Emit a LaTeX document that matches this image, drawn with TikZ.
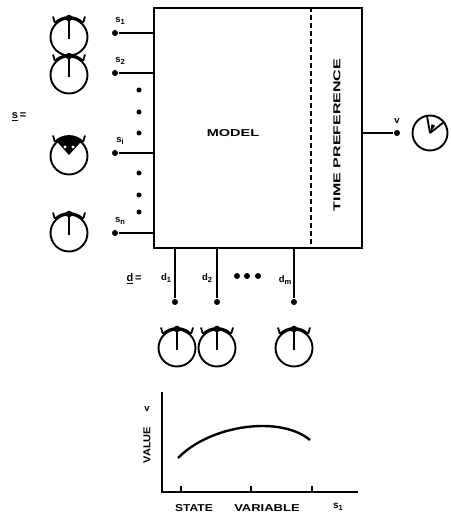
\documentclass[tikz,border=0pt]{standalone}
\usepackage{fontspec}
\setmainfont{Liberation Sans}
\usetikzlibrary{calc}
\newcommand\mysub[1]{\raisebox{-2.5pt}{\fontsize{7.5}{8}\selectfont #1}}
\begin{document}
\begin{tikzpicture}[x=1pt,y=-1pt,line width=1.8pt,
  dial/.style={circle,draw,line width=1.9pt,minimum size=37pt,inner sep=0pt},
  lbl/.style={font=\bfseries\fontsize{9.5}{10}\selectfont,inner sep=0pt},
  big/.style={font=\bfseries\fontsize{10}{11}\selectfont,inner sep=0pt},
  pin/.style={circle,fill,inner sep=0pt,minimum size=6pt},
  vdot/.style={circle,fill,inner sep=0pt,minimum size=5pt},
  crown/.pic={
    \draw[line width=1.8pt] (135:20pt) arc (135:45:20pt);
    \draw[line width=1.8pt] (135:20pt) -- (128:26pt);
    \draw[line width=1.8pt] (45:20pt) -- (52:26pt);
    \fill (90:19pt) circle (3.3pt);
    \draw[line width=1.9pt] (0,-2pt) -- (90:18pt);
  },
  crownfill/.pic={
    \draw[line width=1.8pt] (135:20pt) arc (135:45:20pt);
    \draw[line width=1.8pt] (135:20pt) -- (128:26pt);
    \draw[line width=1.8pt] (45:20pt) -- (52:26pt);
    \fill (130:18pt) arc (130:50:18pt) -- (0,1pt) -- cycle;
    \fill[white] (-4pt,9pt) circle (1.6pt) (4pt,9pt) circle (1.6pt);
  },
  outdial/.pic={
    \draw[line width=1.8pt] (0,0) -- (100:18pt);
    \draw[line width=1.8pt] (0,0) -- (38:18pt);
    \fill (0,0) -- (80:9pt) -- (55:9pt) -- cycle;
  }]
\useasboundingbox (0,0) rectangle (450,521);

% main box
\node[draw,line width=2pt,minimum width=208pt,minimum height=240pt,inner sep=0pt] (model) at (258,128) {};
\draw[line width=1.7pt,dash pattern=on 5pt off 3pt] ($(model.north west)+(158,0)$) coordinate (dtop) -- ($(model.south west)+(158,0)$) coordinate (dbot);
\node[big] (mlabel) at (233,133) {\scalebox{1.45}[1]{MODEL}};
\node[big,rotate=90] (tpref) at (337,135) {\scalebox{1.6}[1]{TIME\hspace{3pt}PREFERENCE}};

% left inputs
\foreach \n/\y/\t in {1/33/1, 2/73/2, i/153/i, n/233/n}{
  \node[pin] (s\n) at (115,\y) {};
  \draw (s\n) -- (s\n -| model.west);
  \node[lbl] (sl\n) at (120,\y-12) {s\mysub{\t}};
}
\foreach \k/\y in {a/90,b/112,c/133,d/173,e/195,f/212}{
  \node[vdot] (ld\k) at (139,\y) {};
}
\node[lbl,font=\bfseries\fontsize{11}{12}\selectfont] (svec) at (19,117) {$\underline{\mathbf{s}}$\,=};

% left dials
\node[dial] (g1) at (69,37) {};
\pic at (g1.center) {crown};
\node[dial] (g2) at (69,75) {};
\pic at (g2.center) {crown};
\node[dial] (g3) at (69,156) {};
\pic at (g3.center) {crownfill};
\node[dial] (g4) at (69,233) {};
\pic at (g4.center) {crown};

% bottom inputs
\foreach \n/\x in {1/175, 2/217, m/294}{
  \node[pin] (d\n) at (\x,302) {};
  \draw (d\n) -- (d\n |- model.south);
}
\node[lbl] (dl1) at (166,278) {d\mysub{1}};
\node[lbl] (dl2) at (207,278) {d\mysub{2}};
\node[lbl] (dlm) at (285,280) {d\mysub{m}};
\node[lbl,font=\bfseries\fontsize{11}{12}\selectfont] (dvec) at (134,279) {$\underline{\mathbf{d}}$\,=};
\foreach \k/\x in {a/237,b/247,c/258}{
  \node[vdot,minimum size=6pt] (bd\k) at (\x,276) {};
}

% bottom dials
\node[dial] (h1) at (177,348) {};
\pic at (h1.center) {crown};
\node[dial] (h2) at (217,348) {};
\pic at (h2.center) {crown};
\node[dial] (h3) at (294,348) {};
\pic at (h3.center) {crown};

% output
\node[pin] (vout) at (397,133) {};
\draw (model.east |- vout) -- (vout);
\node[lbl] (vl) at (397,121) {v};
\node[dial,minimum size=35pt] (gv) at (430,133) {};
\pic at (gv.center) {outdial};

% graph
\coordinate (o) at (162,492);
\draw[line width=1.5pt] (162,392) -- (o) -- (358,492);
\foreach \x in {181,251,312}{\draw[line width=1.5pt] (\x,492) -- (\x,486);}
\draw[line width=2.4pt] (178,458) .. controls (210,425) and (280,415) .. (310,440);
\node[big] (st) at (194,508) {\scalebox{1.2}[1]{STATE}};
\node[big] (va) at (267,508) {\scalebox{1.3}[1]{VARIABLE}};
\node[big] (s1x) at (338,507) {s\mysub{1}};
\node[big,rotate=90] (vy) at (147,445) {\scalebox{1.1}[1]{VALUE}};
\node[lbl] (vv) at (147,409) {v};
\end{tikzpicture}
\end{document}
